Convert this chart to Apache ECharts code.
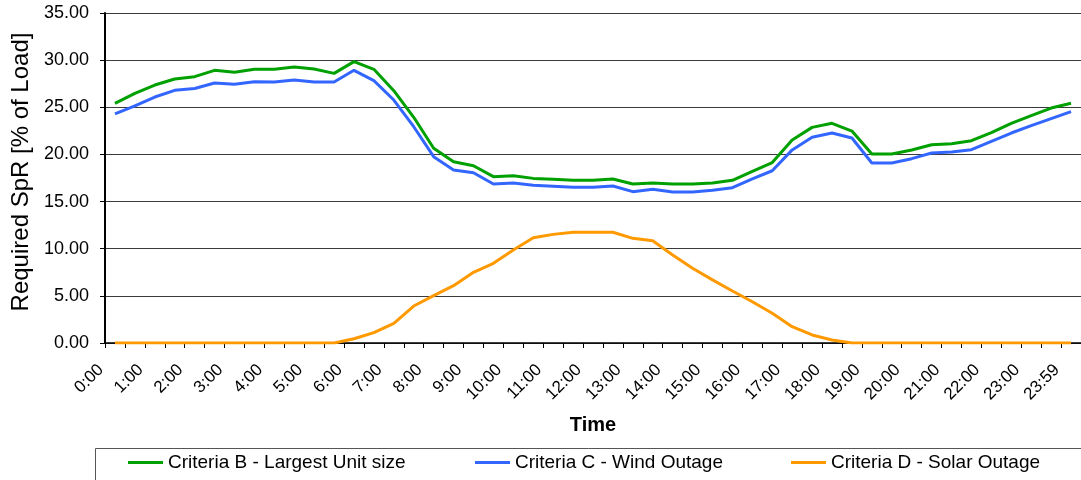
<!DOCTYPE html>
<html>
<head>
<meta charset="utf-8">
<script src="https://cdn.jsdelivr.net/npm/echarts@6/dist/echarts.min.js"></script>
<style>
html,body{margin:0;padding:0;background:#fff;}
#chart{width:1081px;height:480px;}
</style>
</head>
<body>
<div id="chart"></div>
<script>
var timeLabels = ["0:00","0:30","1:00","1:30","2:00","2:30","3:00","3:30","4:00","4:30","5:00","5:30","6:00","6:30","7:00","7:30","8:00","8:30","9:00","9:30","10:00","10:30","11:00","11:30","12:00","12:30","13:00","13:30","14:00","14:30","15:00","15:30","16:00","16:30","17:00","17:30","18:00","18:30","19:00","19:30","20:00","20:30","21:00","21:30","22:00","22:30","23:00","23:30","23:59"];
var criteriaB = [25.42,26.48,27.36,28.00,28.25,28.92,28.71,29.03,29.03,29.27,29.06,28.60,29.84,29.03,26.76,23.94,20.65,19.23,18.80,17.64,17.75,17.46,17.36,17.25,17.25,17.39,16.86,16.97,16.86,16.86,16.97,17.25,18.20,19.14,21.53,22.87,23.30,22.48,20.05,20.05,20.47,21.03,21.14,21.46,22.31,23.30,24.11,24.92,25.42];
var criteriaC = [24.29,25.14,26.09,26.80,27.00,27.58,27.44,27.72,27.68,27.90,27.68,27.68,28.92,27.82,25.77,22.94,19.76,18.35,18.06,16.86,16.97,16.72,16.62,16.51,16.51,16.65,16.05,16.30,16.02,16.02,16.20,16.47,17.40,18.27,20.48,21.82,22.27,21.74,19.09,19.09,19.55,20.15,20.26,20.50,21.39,22.27,23.05,23.80,24.54];
var criteriaD = [0,0,0,0,0,0,0,0,0,0,0,0,0.45,1.10,2.09,3.92,5.02,6.08,7.50,8.45,9.86,11.17,11.52,11.74,11.74,11.74,11.10,10.85,9.33,7.92,6.70,5.52,4.38,3.15,1.73,0.85,0.32,0,0,0,0,0,0,0,0,0,0,0,0];
var seriesNames = ["Criteria B - Largest Unit size","Criteria C - Wind Outage","Criteria D - Solar Outage"];
var seriesColors = ["#00A000","#3366FF","#FF9900"];

var FONT = "Liberation Sans, Arial, sans-serif";
var chart = echarts.init(document.getElementById('chart'), null, {renderer:'canvas'});
function legendFor(i, left){
  return {
    data:[seriesNames[i]], left:left, top:453, padding:0,
    icon:'rect', itemWidth:35, itemHeight:3,
    textStyle:{fontFamily:FONT, fontSize:19, color:'#000'},
    selectedMode:false
  };
}
var option = {
  backgroundColor:'#fff',
  animation:false,
  grid:{left:105, top:13, width:978, height:330},
  legend:[legendFor(0,128), legendFor(1,475), legendFor(2,791)],
  graphic:[{
    type:'rect', left:93, top:446,
    shape:{x:0,y:0,width:1000,height:60},
    style:{fill:'none', stroke:'#555', lineWidth:1},
    z:-1
  }],
  xAxis:{
    type:'category', data:timeLabels, boundaryGap:true,
    name:'Time', nameLocation:'middle', nameGap:72,
    nameTextStyle:{fontFamily:FONT, fontSize:20, fontWeight:'bold', color:'#000'},
    axisLine:{lineStyle:{color:'#000', width:1.5}},
    axisTick:{show:true, length:5, interval:0, lineStyle:{color:'#000'}},
    axisLabel:{interval:1, rotate:45, margin:10, padding:[0,20,0,0],
      fontFamily:FONT, fontSize:17, color:'#000'},
    splitLine:{show:false}
  },
  yAxis:{
    type:'value', min:0, max:35, interval:5,
    name:'Required SpR [% of Load]', nameLocation:'middle', nameGap:71, nameRotate:90,
    nameTextStyle:{fontFamily:FONT, fontSize:24, color:'#000', padding:[0,0,0,12]},
    axisLine:{show:true, lineStyle:{color:'#000', width:2}},
    axisTick:{show:true, length:5, lineStyle:{color:'#000'}},
    axisLabel:{margin:16, fontFamily:FONT, fontSize:18, color:'#000',
      formatter:function(v){return v.toFixed(2);}},
    splitLine:{show:true, lineStyle:{color:'#3a3a3a', width:1}}
  },
  series:[
    {name:seriesNames[2], type:'line', data:criteriaD, showSymbol:false, symbol:'none',
      lineStyle:{color:seriesColors[2], width:3}, itemStyle:{color:seriesColors[2]}},
    {name:seriesNames[1], type:'line', data:criteriaC, showSymbol:false, symbol:'none',
      lineStyle:{color:seriesColors[1], width:3}, itemStyle:{color:seriesColors[1]}},
    {name:seriesNames[0], type:'line', data:criteriaB, showSymbol:false, symbol:'none',
      lineStyle:{color:seriesColors[0], width:3}, itemStyle:{color:seriesColors[0]}}
  ]
};
chart.setOption(option);
</script>
</body>
</html>
